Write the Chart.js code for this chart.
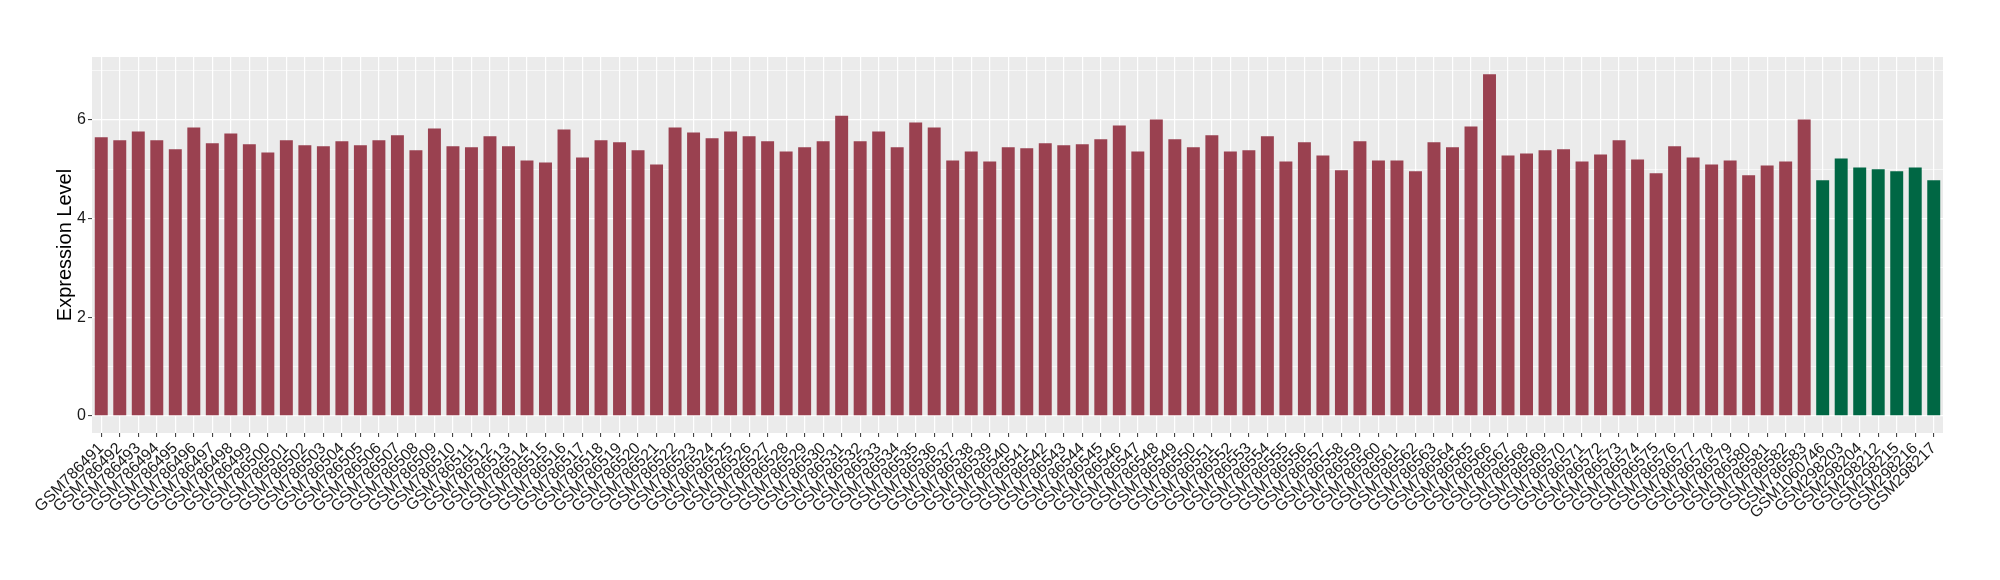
<!DOCTYPE html>
<html>
<head>
<meta charset="utf-8">
<script src="https://cdn.jsdelivr.net/npm/chart.js@4.4.1/dist/chart.umd.min.js"></script>
<style>
  html, body { margin: 0; padding: 0; background: #fff; }
  #wrap { width: 2000px; height: 580px; }
</style>
</head>
<body>
<div id="wrap"><canvas id="expChart" width="2000" height="580"></canvas></div>
<script>
// sample ids, first group (red) then second group (green)
const groupASamples = [];
for (let n = 786491; n <= 786583; n++) groupASamples.push('GSM' + n);
const groupBSamples = ['GSM1060746', 'GSM298203', 'GSM298204', 'GSM298212', 'GSM298215', 'GSM298216', 'GSM298217'];

// expression values
const groupAValues = [
  5.65, 5.59, 5.77, 5.59, 5.41, 5.85, 5.53, 5.73, 5.51, 5.34,
  5.59, 5.49, 5.47, 5.57, 5.49, 5.59, 5.69, 5.39, 5.83, 5.47,
  5.45, 5.67, 5.47, 5.18, 5.14, 5.81, 5.24, 5.59, 5.55, 5.39,
  5.10, 5.85, 5.75, 5.63, 5.77, 5.67, 5.57, 5.36, 5.45, 5.57,
  6.09, 5.57, 5.77, 5.45, 5.95, 5.85, 5.18, 5.36, 5.16, 5.45,
  5.43, 5.53, 5.49, 5.51, 5.61, 5.89, 5.36, 6.01, 5.61, 5.45,
  5.69, 5.36, 5.39, 5.67, 5.16, 5.55, 5.28, 4.98, 5.57, 5.18,
  5.18, 4.96, 5.55, 5.45, 5.87, 6.93, 5.28, 5.32, 5.39, 5.41,
  5.16, 5.30, 5.59, 5.20, 4.92, 5.47, 5.24, 5.10, 5.18, 4.88,
  5.08, 5.16, 6.01
];
const groupBValues = [4.78, 5.22, 5.04, 5.00, 4.96, 5.04, 4.78];

const yTicks = [0, 1, 2, 3, 4, 5, 6, 7];

const labels = groupASamples.concat(groupBSamples);
const dataA = groupAValues.concat(groupBValues.map(() => null));
const dataB = groupAValues.map(() => null).concat(groupBValues);

const panelBg = {
  id: 'panelBg',
  beforeDraw(chart) {
    const { ctx, chartArea: a } = chart;
    ctx.save();
    ctx.fillStyle = '#EBEBEB';
    ctx.fillRect(a.left, a.top, a.right - a.left, a.bottom - a.top);
    ctx.restore();
  }
};

const FONT = "'Liberation Sans', Arial, Helvetica, sans-serif";

new Chart(document.getElementById('expChart').getContext('2d'), {
  type: 'bar',
  data: {
    labels: labels,
    datasets: [
      { data: dataA, backgroundColor: '#9A4150', grouped: false, barPercentage: 0.7, categoryPercentage: 1 },
      { data: dataB, backgroundColor: '#006744', grouped: false, barPercentage: 0.7, categoryPercentage: 1 }
    ]
  },
  options: {
    responsive: false,
    animation: false,
    layout: { padding: { top: 57, right: 57, left: 0, bottom: 0 } },
    plugins: { legend: { display: false }, tooltip: { enabled: false } },
    scales: {
      x: {
        offset: true,
        border: { display: false },
        grid: { offset: false, color: '#FFFFFF', lineWidth: 1.2, tickLength: 4, tickColor: '#333333', tickWidth: 1 },
        ticks: {
          autoSkip: false, minRotation: 45, maxRotation: 45, padding: 2,
          color: '#1A1A1A', font: { family: FONT, size: 16 }
        },
        afterFit(axis) { axis.height = 147; }
      },
      y: {
        min: -0.35,
        max: 7.28,
        border: { display: false },
        afterBuildTicks(axis) { axis.ticks = yTicks.map(v => ({ value: v })); },
        grid: {
          color: '#FFFFFF',
          lineWidth: c => (c.tick && c.tick.value % 2 === 0) ? 1.2 : 0.6,
          tickLength: 4,
          tickWidth: 1,
          tickColor: c => (c.tick && c.tick.value % 2 === 0) ? '#333333' : 'rgba(0,0,0,0)'
        },
        ticks: {
          padding: 2,
          color: '#1A1A1A',
          font: { family: FONT, size: 16 },
          callback: v => (v % 2 === 0 ? String(v) : '')
        },
        title: {
          display: true, text: 'Expression Level', color: '#000000',
          font: { family: FONT, size: 20 }, padding: { top: 53, bottom: 0 }
        },
        afterFit(axis) { axis.width = 92; }
      }
    }
  },
  plugins: [panelBg]
});
</script>
</body>
</html>
